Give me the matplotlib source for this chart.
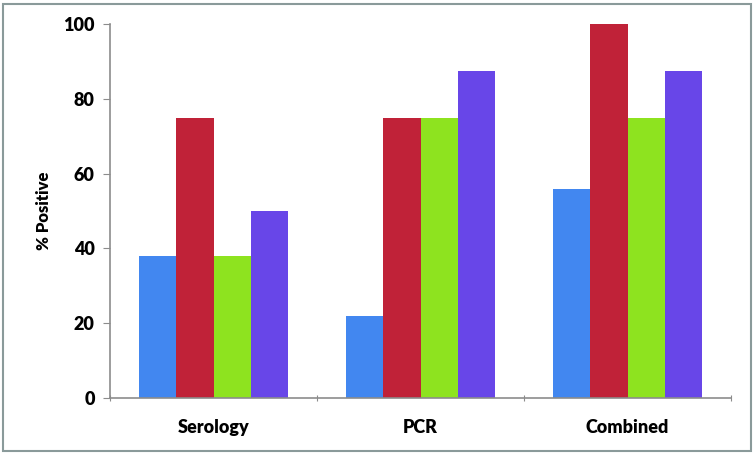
import numpy as np
import matplotlib
matplotlib.use('Agg')
import matplotlib.pyplot as plt
from matplotlib.patches import Rectangle

# data
categories = ['Serology', 'PCR', 'Combined']
series1 = [38, 22, 56]      # blue
series2 = [75, 75, 100]     # red
series3 = [38, 75, 75]      # green
series4 = [50, 87.5, 87.5]  # purple
colors = ['#4287f0', '#c02238', '#8ee31f', '#6846e8']

plt.rcParams['font.family'] = ['Lato', 'DejaVu Sans']

fig = plt.figure(figsize=(7.54, 4.54), dpi=100)
ax = fig.add_axes([110 / 754, 56 / 454, 621 / 754, 374 / 454])

x = np.arange(len(categories)) + 0.5
width = 0.181
all_series = [series1, series2, series3, series4]
for i, vals in enumerate(all_series):
    ax.bar(x + (i - 1.5) * width, vals, width, color=colors[i], linewidth=0)

ax.set_xlim(0, 3)
ax.set_ylim(0, 100)
ax.set_yticks(range(0, 101, 20))
ax.set_xticks([0, 1, 2, 3])
ax.set_xticklabels([])
ax.set_xticks(x, minor=True)
ax.set_xticklabels(categories, minor=True, fontsize=13, fontweight='heavy')
ax.tick_params(axis='x', which='minor', length=0, pad=15)
ax.tick_params(axis='x', which='major', length=5, direction='inout', color='#8c8c8c')
ax.tick_params(axis='y', length=5, direction='out', color='#8c8c8c', labelsize=13, pad=6)
for lab in ax.get_yticklabels():
    lab.set_fontweight('heavy')

for s in ['top', 'right']:
    ax.spines[s].set_visible(False)
for s in ['left', 'bottom']:
    ax.spines[s].set_color('#8c8c8c')
    ax.spines[s].set_linewidth(1.2)

ax.set_ylabel('% Positive', fontsize=12, fontweight='heavy', labelpad=8)

# outer border around the chart
fig.patches.append(Rectangle((3 / 754, 3 / 454), 748 / 754, 447 / 454, transform=fig.transFigure,
                             fill=False, edgecolor='#8a9a9a', linewidth=1.5))

fig.savefig('out.png', dpi=100)
